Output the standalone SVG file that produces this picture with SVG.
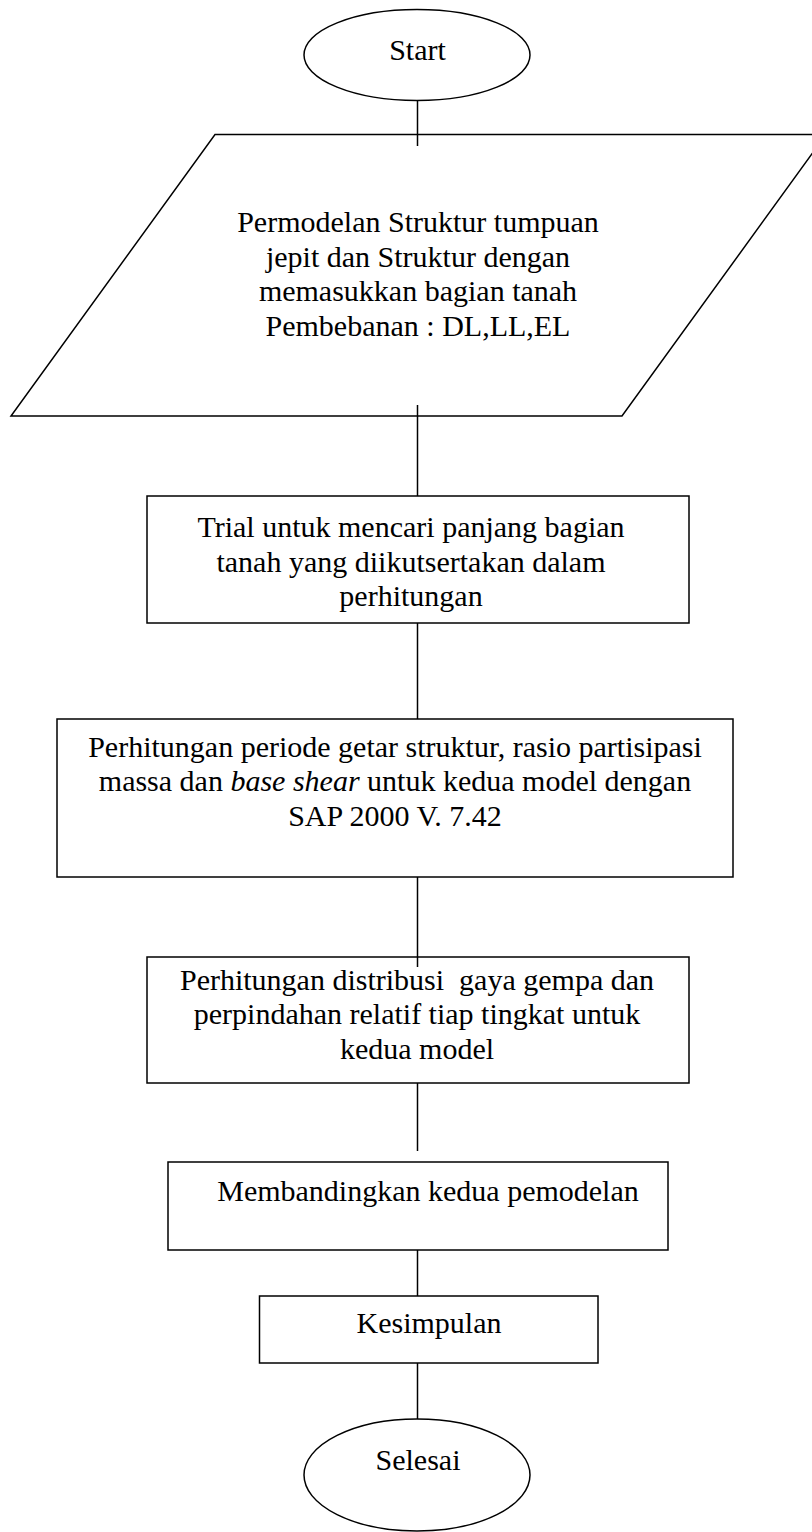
<svg xmlns="http://www.w3.org/2000/svg" width="812" height="1532" viewBox="0 0 812 1532">
<style>
.s{fill:#fff;stroke:#000;stroke-width:1.5}
.c{stroke:#000;stroke-width:1.5;fill:none}
text{font-family:"Liberation Serif","Times New Roman",serif;font-size:30px;fill:#000;text-anchor:middle}
</style>
<rect width="812" height="1532" fill="#fff"/>
<g id="connectors">
<line class="c" x1="417.5" y1="100" x2="417.5" y2="146"/>
<line class="c" x1="417.5" y1="405" x2="417.5" y2="496"/>
<line class="c" x1="417.5" y1="623" x2="417.5" y2="719"/>
<line class="c" x1="417.5" y1="877" x2="417.5" y2="967"/>
<line class="c" x1="417.5" y1="1083" x2="417.5" y2="1151"/>
<line class="c" x1="417.5" y1="1250" x2="417.5" y2="1296"/>
<line class="c" x1="417.5" y1="1363" x2="417.5" y2="1419"/>
</g>
<g id="start">
<ellipse class="s" cx="417" cy="55" rx="113" ry="45.5"/>
<text x="417.5" y="60">Start</text>
</g>
<g id="input">
<polygon class="s" points="215,134.5 826,134.5 622,416 11,416" fill-opacity="0"/>
<text x="418" y="232">Permodelan Struktur tumpuan</text>
<text x="418" y="266.5">jepit dan Struktur dengan</text>
<text x="418" y="301">memasukkan bagian tanah</text>
<text x="418" y="335.5">Pembebanan : DL,LL,EL</text>
</g>
<g id="trial">
<rect class="s" x="147" y="496" width="542" height="127" fill-opacity="0"/>
<text x="411" y="537">Trial untuk mencari panjang bagian</text>
<text x="411" y="571.5">tanah yang diikutsertakan dalam</text>
<text x="411" y="606">perhitungan</text>
</g>
<g id="periode">
<rect class="s" x="57" y="719" width="676" height="158" fill-opacity="0"/>
<text x="395" y="756.5">Perhitungan periode getar struktur, rasio partisipasi</text>
<text x="395" y="791">massa dan <tspan font-style="italic">base shear</tspan> untuk kedua model dengan</text>
<text x="395" y="825.5">SAP 2000 V. 7.42</text>
</g>
<g id="distribusi">
<rect class="s" x="147" y="957" width="542" height="126" fill-opacity="0"/>
<text x="417" y="989.5" xml:space="preserve">Perhitungan distribusi  gaya gempa dan</text>
<text x="417" y="1024">perpindahan relatif tiap tingkat untuk</text>
<text x="417" y="1058.5">kedua model</text>
</g>
<g id="membandingkan">
<rect class="s" x="168" y="1162" width="500" height="88" fill-opacity="0"/>
<text x="428" y="1200.5">Membandingkan kedua pemodelan</text>
</g>
<g id="kesimpulan">
<rect class="s" x="259.5" y="1296" width="338.5" height="67" fill-opacity="0"/>
<text x="429" y="1333">Kesimpulan</text>
</g>
<g id="selesai">
<ellipse class="s" cx="417" cy="1475" rx="113" ry="56"/>
<text x="418" y="1470">Selesai</text>
</g>
</svg>
